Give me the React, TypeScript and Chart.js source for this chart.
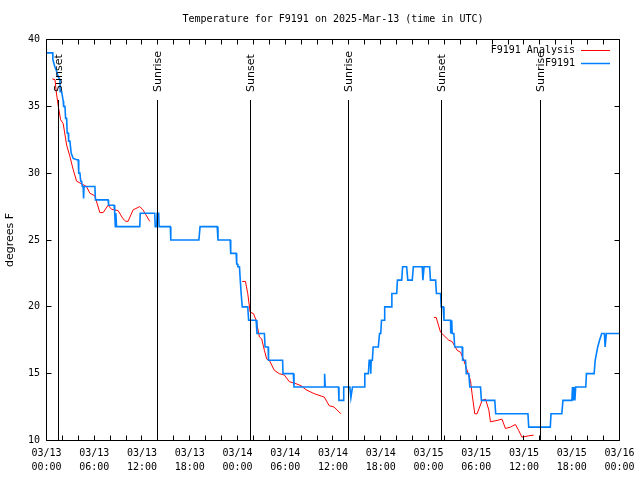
import React, { useEffect, useRef } from 'react';
import { Chart, registerables } from 'chart.js';

Chart.register(...registerables);

// ---- data ----
const TITLE = 'Temperature for F9191 on 2025-Mar-13 (time in UTC)';
const Y_LABEL = 'degrees F';
const xTickDates = ['03/13', '03/13', '03/13', '03/13', '03/14', '03/14', '03/14', '03/14', '03/15', '03/15', '03/15', '03/15', '03/16'];
const xTickTimes = ['00:00', '06:00', '12:00', '18:00', '00:00', '06:00', '12:00', '18:00', '00:00', '06:00', '12:00', '18:00', '00:00'];
const yMin = 10;
const yMax = 40;
const yStep = 5;

// hours since 03/13 00:00 UTC
const obsHours = [
  0, 0.78, 0.8, 1.03, 1.28, 1.48, 1.69, 1.72, 1.9, 2.1, 2.15, 2.32, 2.4, 2.53, 2.6, 2.73, 2.78, 2.94, 3.1, 3.36,
  3.78, 3.98, 4.05, 4.2, 4.3, 4.41, 4.5, 4.61, 4.66, 4.72, 6.08, 6.15, 7.74, 7.8, 8.5, 8.55, 8.6, 8.65, 8.72, 8.8,
  8.96, 11.72, 11.78, 13.6, 13.66, 13.85, 13.9, 14.1, 14.15, 15.56, 15.62, 19.15, 19.3, 21.45, 21.55, 23.08, 23.15, 23.83, 23.9, 24.0,
  24.05, 24.25, 24.35, 24.46, 24.6, 25.29, 25.4, 26.34, 26.45, 27.38, 27.47, 27.85, 27.9, 29.67, 29.72, 31.02, 31.1, 34.9, 34.95, 35.03,
  36.69, 36.75, 37.28, 37.35, 38.12, 38.25, 38.45, 39.91, 40.0, 40.45, 40.55, 40.7, 40.75, 40.8, 40.95, 41.05, 41.7, 41.85, 42.0, 42.1,
  42.42, 42.5, 43.33, 43.4, 44.01, 44.1, 44.64, 44.75, 45.26, 45.4, 45.96, 46.1, 47.22, 47.3, 47.45, 48.15, 48.25, 48.9, 49.0, 49.52,
  49.6, 49.85, 49.95, 50.78, 50.8, 50.85, 50.9, 50.95, 50.98, 51.19, 51.3, 52.23, 52.3, 52.66, 52.75, 53.07, 53.2, 54.54, 54.65, 56.33,
  56.45, 60.5, 60.6, 63.31, 63.4, 64.76, 64.9, 66.02, 66.1, 66.2, 66.3, 66.4, 66.5, 67.77, 67.85, 68.82, 68.95, 69.27, 69.5, 69.77,
  70.11, 70.2, 70.35, 72,
];
const obsTemps = [
  39, 39, 38.5, 38, 37.6, 37.2, 37, 36.1, 36.1, 35.4, 35, 35, 34.1, 34.1, 33, 33, 32.4, 32.4, 31.5, 31.1,
  31, 31, 30, 30, 29.4, 29.4, 29, 29, 28.1, 29, 29, 28, 28, 27.6, 27.6, 27, 27, 26, 27, 26,
  26, 26, 27, 27, 26, 26, 27, 27, 26, 26, 25, 25, 26, 26, 25, 25, 24, 24, 23.2, 23.2,
  23, 23, 22, 21, 20, 20, 19, 19, 18, 18, 17, 17, 16, 16, 15, 15, 14, 14, 15, 14,
  14, 13, 13, 14, 14, 13.2, 14, 14, 15, 15, 16, 16, 15, 16, 16, 17, 17, 18, 18, 19,
  19, 20, 20, 21, 21, 22, 22, 23, 23, 22, 22, 23, 23, 22, 23, 23, 22, 22, 21, 21,
  20, 20, 19, 19, 18, 19, 18, 19, 18, 18, 17, 17, 16, 16, 15, 15, 14, 14, 13, 13,
  12, 12, 11, 11, 12, 12, 13, 13, 14, 13, 14, 13, 14, 14, 15, 15, 16, 17, 17.5, 18,
  18, 17, 18, 18,
];

const anaHours = [
  0.73, 1.07, 1.2, 1.48, 1.78, 2.1, 2.53, 2.94, 3.36, 3.78, 4.41, 5.03, 5.45, 6.08, 6.7, 7.12, 7.74, 8.17, 9.0, 9.6,
  9.96, 10.25, 10.88, 11.72, 12.13, 12.97, 18,
  24.59, 25.0, 25.29, 25.59, 26.0, 26.34, 26.75, 27.04, 27.38, 27.67, 28.0, 28.63, 29.26, 29.89, 30.51, 31.35, 31.98, 32.61, 33.65,
  34.9, 35.53, 36.15, 36.99, 42,
  48.68, 48.97, 49.52, 50.56, 50.98, 51.6, 52.03, 52.44, 52.86, 53.28, 53.48, 53.82, 54.11, 54.74, 55.16, 55.58, 55.79, 56.62, 57.24, 57.67,
  58.3, 58.92, 59.34, 59.75, 60.59, 61.22,
];
const anaTemps = [
  37.05, 37, 36.2, 35, 34, 33.7, 32.1, 31.25, 30.25, 29.4, 29.2, 29.0, 28.5, 28.3, 27.05, 27.05, 27.6, 27.3, 27.2, 26.6,
  26.4, 26.4, 27.25, 27.5, 27.25, 26.4, null,
  21.9, 21.9, 21, 19.6, 19.5, 19, 17.75, 17.6, 16.75, 16.1, 16, 15.25, 15, 14.9, 14.4, 14.25, 14.1, 13.8, 13.5,
  13.25, 12.6, 12.5, 12, null,
  19.2, 19.2, 18.1, 17.5, 17.4, 16.75, 16.6, 16, 15.25, 14.5, 13.5, 12, 12, 13, 13.1, 12.3, 11.4, 11.5, 11.6, 10.9,
  11, 11.2, 10.75, 10.25, 10.35, 10.4,
];

const sunHours = [1.5, 14.0, 25.6, 37.95, 49.65, 62.05];
const sunLabels = ['Sunset', 'Sunrise', 'Sunset', 'Sunrise', 'Sunset', 'Sunrise'];

const seriesNames = ['F9191 Analysis', 'F9191'];
const seriesColors = ['#ff0000', '#0080ff'];

const MONO = '"DejaVu Sans Mono", "Liberation Mono", monospace';
const SANS = '"DejaVu Sans", "Liberation Sans", sans-serif';

const decorPlugin = {
  id: 'gnuplotDecor',
  beforeDraw(chart: any) {
    const ctx = chart.ctx;
    ctx.save();
    ctx.fillStyle = '#ffffff';
    ctx.fillRect(0, 0, chart.width, chart.height);
    ctx.restore();
  },
  afterDatasetsDraw(chart: any) {
    const { ctx, chartArea: a, scales } = chart;
    const xs = scales.x;
    const ys = scales.y;
    const crisp = (v: number) => Math.floor(v) + 0.5;
    ctx.save();
    ctx.strokeStyle = '#000000';
    ctx.lineWidth = 1;
    // frame
    const L = crisp(a.left), R = crisp(a.right), T = crisp(a.top), B = crisp(a.bottom);
    ctx.beginPath();
    ctx.rect(L, T, R - L, B - T);
    ctx.stroke();
    // x ticks (inward, bottom & top) every 2 hours
    ctx.beginPath();
    for (let h = 0; h <= 72; h += 2) {
      const px = crisp(xs.getPixelForValue(h));
      ctx.moveTo(px, B); ctx.lineTo(px, B - 5);
      ctx.moveTo(px, T); ctx.lineTo(px, T + 5);
    }
    // y ticks (inward, left & right)
    for (let v = yMin; v <= yMax; v += yStep) {
      const py = crisp(ys.getPixelForValue(v));
      ctx.moveTo(L, py); ctx.lineTo(L + 5, py);
      ctx.moveTo(R, py); ctx.lineTo(R - 5, py);
    }
    ctx.stroke();
    // sunrise / sunset lines
    ctx.font = `11px ${SANS}`;
    ctx.fillStyle = '#000000';
    for (let i = 0; i < sunHours.length; i++) {
      const px = crisp(xs.getPixelForValue(sunHours[i]));
      ctx.beginPath();
      ctx.moveTo(px, B);
      ctx.lineTo(px, 100);
      ctx.stroke();
      ctx.save();
      ctx.translate(px + 1, 92);
      ctx.rotate(-Math.PI / 2);
      ctx.textAlign = 'left';
      ctx.textBaseline = 'middle';
      ctx.fillText(sunLabels[i], 0, 0);
      ctx.restore();
    }
    ctx.restore();
  },
  afterDraw(chart: any) {
    const { ctx, chartArea: a } = chart;
    ctx.save();
    ctx.fillStyle = '#000000';
    // title
    ctx.font = `10px ${MONO}`;
    ctx.textAlign = 'center';
    ctx.textBaseline = 'middle';
    ctx.fillText(TITLE, (a.left + a.right) / 2, 19);
    // legend
    ctx.textAlign = 'right';
    for (let i = 0; i < seriesNames.length; i++) {
      const y = 50 + i * 13;
      ctx.fillStyle = '#000000';
      ctx.fillText(seriesNames[i], 575, y);
      ctx.strokeStyle = seriesColors[i];
      ctx.lineWidth = i === 0 ? 1 : 1.5;
      ctx.beginPath();
      ctx.moveTo(581, y + 0.5);
      ctx.lineTo(610, y + 0.5);
      ctx.stroke();
    }
    // y axis label
    ctx.save();
    ctx.font = `11px ${SANS}`;
    ctx.fillStyle = '#000000';
    ctx.translate(10, (a.top + a.bottom) / 2);
    ctx.rotate(-Math.PI / 2);
    ctx.textAlign = 'center';
    ctx.textBaseline = 'middle';
    ctx.fillText(Y_LABEL, 0, 0);
    ctx.restore();
    ctx.restore();
  },
};

export default function App() {
  const ref = useRef<HTMLCanvasElement | null>(null);

  useEffect(() => {
    if (!ref.current) return;
    const obsData = obsHours.map((h, i) => ({ x: h, y: obsTemps[i] }));
    const anaData = anaHours.map((h, i) => ({ x: h, y: anaTemps[i] }));
    const chart = new Chart(ref.current, {
      type: 'line',
      data: {
        datasets: [
          {
            label: seriesNames[1],
            data: obsData,
            borderColor: seriesColors[1],
            borderWidth: 1.6,
            pointRadius: 0,
            tension: 0,
            fill: false,
          },
          {
            label: seriesNames[0],
            data: anaData as any,
            borderColor: seriesColors[0],
            borderWidth: 1,
            pointRadius: 0,
            tension: 0,
            fill: false,
            spanGaps: false,
          },
        ],
      },
      plugins: [decorPlugin],
      options: {
        animation: false,
        responsive: false,
        devicePixelRatio: 1,
        layout: { padding: { top: 39.5, right: 19, left: 0, bottom: 0 } },
        plugins: {
          legend: { display: false },
          title: { display: false },
          tooltip: { enabled: false },
        },
        scales: {
          x: {
            type: 'linear',
            min: 0,
            max: 72,
            grid: { display: false, drawTicks: false },
            border: { display: false },
            ticks: {
              stepSize: 6,
              autoSkip: false,
              maxRotation: 0,
              minRotation: 0,
              padding: 5.5,
              color: '#000000',
              font: { family: MONO, size: 10, lineHeight: 1.4 },
              callback: (v: any) => {
                const i = Math.round(Number(v) / 6);
                return [xTickDates[i], xTickTimes[i]];
              },
            },
            afterFit: (s: any) => {
              s.height = 39.5;
            },
          },
          y: {
            min: yMin,
            max: yMax,
            grid: { display: false, drawTicks: false },
            border: { display: false },
            ticks: {
              stepSize: yStep,
              padding: 6.5,
              color: '#000000',
              font: { family: MONO, size: 10 },
            },
            afterFit: (s: any) => {
              s.width = 46.5;
            },
          },
        },
      },
    });
    return () => chart.destroy();
  }, []);

  return (
    <div style={{ position: 'fixed', left: 0, top: 0, width: 640, height: 480, background: '#fff' }}>
      <canvas ref={ref} width={640} height={480} style={{ display: 'block', width: 640, height: 480 }} />
    </div>
  );
}
